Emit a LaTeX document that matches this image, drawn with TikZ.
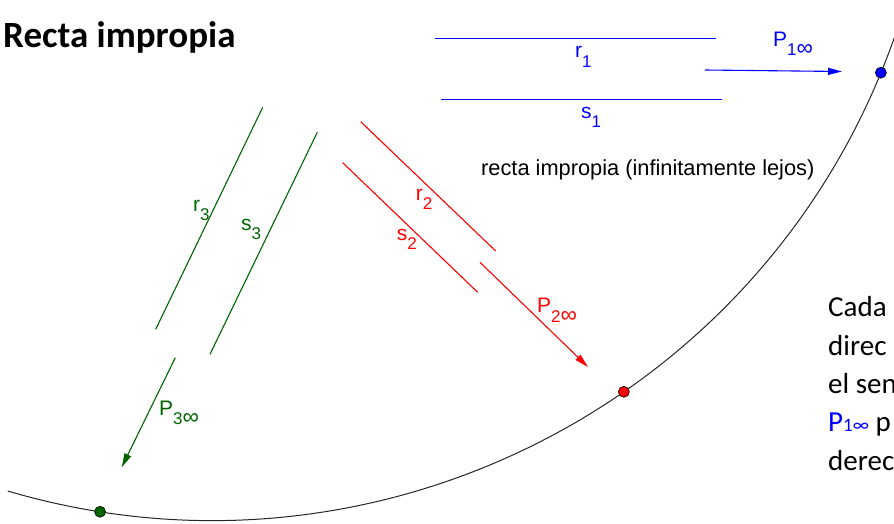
\documentclass[tikz,border=0pt]{standalone}
\usepackage{fontspec}
\setmainfont{Liberation Sans}
\newfontfamily\calibri{Carlito}
\usetikzlibrary{arrows.meta,calc}
\definecolor{ggblue}{RGB}{0,0,255}
\definecolor{ggred}{RGB}{255,0,0}
\definecolor{gggreen}{RGB}{0,100,0}
\newcommand{\sublbl}[2]{#1\raisebox{-9.5pt}{\fontsize{17}{17}\selectfont #2}}
\newcommand{\infsym}{{\fontsize{23}{23}\selectfont ∞}}
\begin{document}
\begin{tikzpicture}[x=1pt,y=1pt,
  lbl/.style={inner sep=0pt, anchor=base west, font=\fontsize{21}{21}\selectfont},
  ln/.style={line width=1.1pt},
  arr/.style={line width=1.1pt, -{Triangle[length=14pt,width=7pt]}},
  dot/.style={circle, draw=black, line width=0.6pt, minimum size=11pt, inner sep=0pt},
  curve/.style={line width=1pt, draw=black!85},
  body/.style={inner sep=0pt, anchor=base west, font=\calibri\fontsize{29}{29}\selectfont}]
\useasboundingbox (0,0) rectangle (894,-523);
\clip (0,0) rectangle (894,-523);
% title
\node[anchor=base west, inner sep=0pt, font=\calibri\bfseries\fontsize{37}{37}\selectfont] (title) at (3,-47) {Recta impropia};
% improper line (arc)
\coordinate (ctr) at (212,203);
\draw[curve] ($(ctr)+(-106.4:723.5pt)$) coordinate (cs) arc[start angle=-106.4, end angle=-18, radius=723.5pt];
% blue
\coordinate (r1a) at (435,-38.5); \coordinate (r1b) at (716,-38.5);
\coordinate (s1a) at (441,-99.5); \coordinate (s1b) at (722,-99.5);
\coordinate (p1a) at (705,-70); \coordinate (p1b) at (842,-71.5);
\draw[ln, draw=ggblue] (r1a) -- (r1b);
\draw[ln, draw=ggblue] (s1a) -- (s1b);
\draw[arr, ggblue] (p1a) -- (p1b);
\node[lbl, ggblue] (lr1) at (575,-57.7) {\sublbl{r}{1}};
\node[lbl, ggblue] (ls1) at (581,-118) {\sublbl{s}{1}};
\node[lbl, ggblue] (lp1) at (773,-46) {\sublbl{P}{1\infsym}};
% red
\coordinate (r2a) at (360.7,-121.7); \coordinate (r2b) at (495.7,-251);
\coordinate (s2a) at (342.7,-162.7); \coordinate (s2b) at (477.7,-292.3);
\coordinate (p2a) at (480,-262.3); \coordinate (p2b) at (588,-367);
\draw[ln, ggred] (r2a) -- (r2b);
\draw[ln, ggred] (s2a) -- (s2b);
\draw[arr, ggred] (p2a) -- (p2b);
\node[lbl, ggred] (lr2) at (415.7,-200) {\sublbl{r}{2}};
\node[lbl, ggred] (ls2) at (396.7,-240) {\sublbl{s}{2}};
\node[lbl, ggred] (lp2) at (537,-312.7) {\sublbl{P}{2\infsym}};
% green
\coordinate (r3a) at (262.7,-107.3); \coordinate (r3b) at (155.7,-329.3);
\coordinate (s3a) at (317.3,-132.3); \coordinate (s3b) at (210,-354.3);
\coordinate (p3a) at (175.3,-357.7); \coordinate (p3b) at (121.7,-467.3);
\draw[ln, gggreen] (r3a) -- (r3b);
\draw[ln, gggreen] (s3a) -- (s3b);
\draw[arr, gggreen] (p3a) -- (p3b);
\node[lbl, gggreen] (lr3) at (193,-211) {\sublbl{r}{3}};
\node[lbl, gggreen] (ls3) at (241,-230) {\sublbl{s}{3}};
\node[lbl, gggreen] (lp3) at (159,-415) {\sublbl{P}{3\infsym}};
% points at infinity
\node[dot, fill=gggreen] (dg) at ($(ctr)+(-98.9:723.5pt)$) {};
\node[dot, fill=ggred] (dr) at ($(ctr)+(-55.3:723.5pt)$) {};
\node[dot, fill=ggblue] (db) at ($(ctr)+(-22.4:723.5pt)$) {};
% caption
\node[lbl, font=\fontsize{21.8}{21.8}\selectfont] (cap) at (481,-175) {recta impropia (infinitamente lejos)};
% side text (cut at the right edge, as in the reference)
\node[body] (t1) at (828,-316.7) {Cada};
\node[body] (t2) at (828,-355) {direc};
\node[body] (t3) at (828,-393.3) {el sen};
\node[body] (t4) at (828,-431.6) {\textcolor{ggblue}{P{\fontsize{19}{19}\selectfont 1∞}} p};
\node[body] (t5) at (828,-470) {derec};
\end{tikzpicture}
\end{document}
